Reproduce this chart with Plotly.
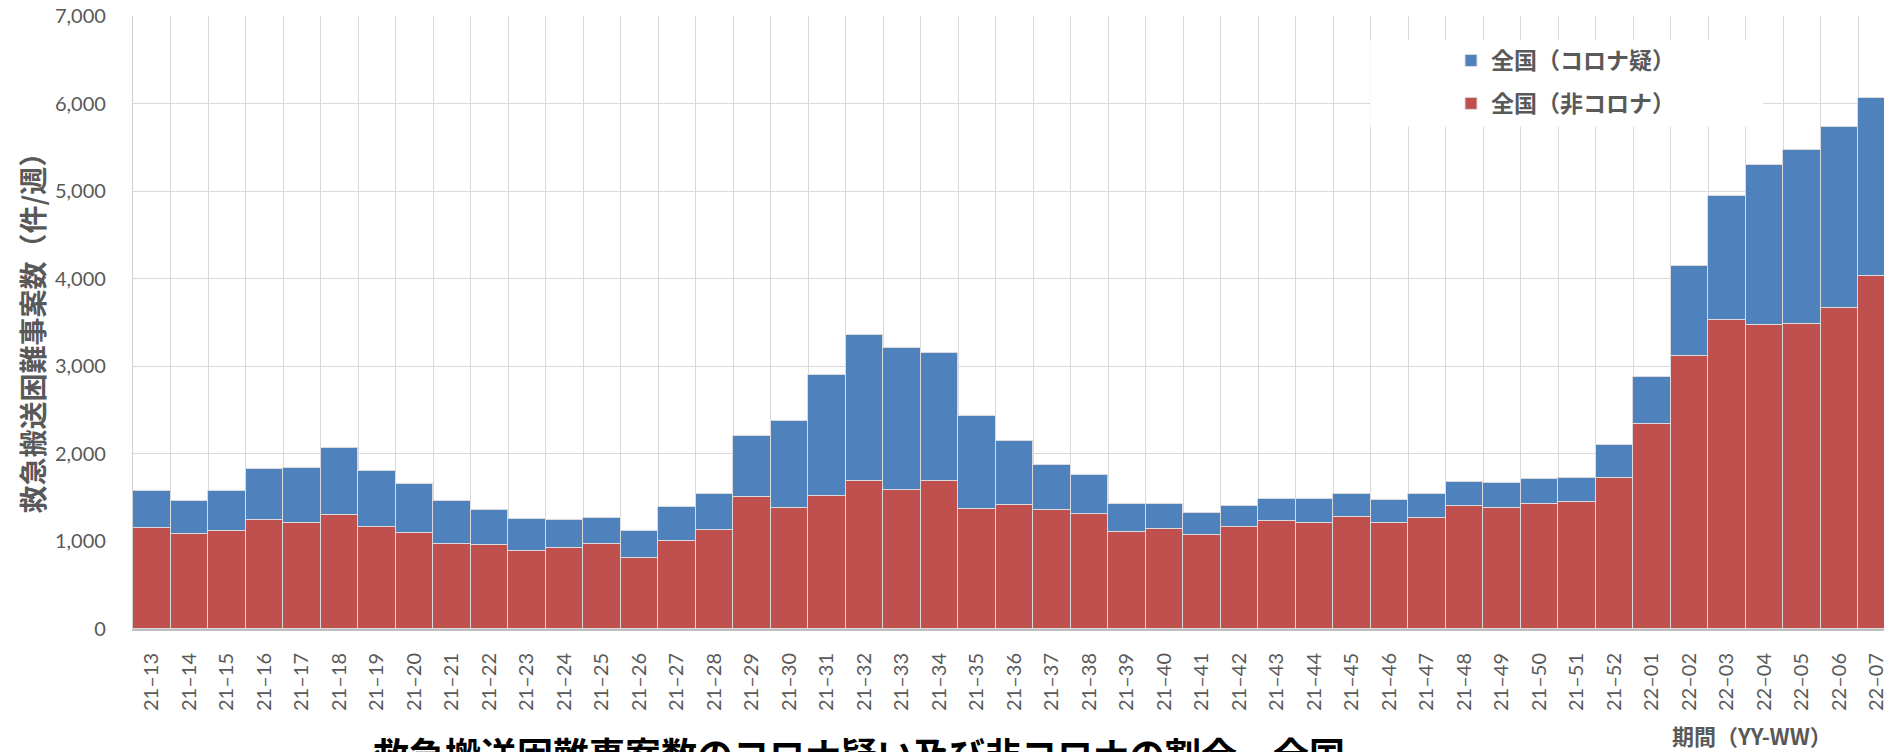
import plotly.graph_objects as go

categories = [
    "21–13", "21–14", "21–15", "21–16", "21–17", "21–18", "21–19", "21–20",
    "21–21", "21–22", "21–23", "21–24", "21–25", "21–26", "21–27", "21–28",
    "21–29", "21–30", "21–31", "21–32", "21–33", "21–34", "21–35", "21–36",
    "21–37", "21–38", "21–39", "21–40", "21–41", "21–42", "21–43", "21–44",
    "21–45", "21–46", "21–47", "21–48", "21–49", "21–50", "21–51", "21–52",
    "22–01", "22–02", "22–03", "22–04", "22–05", "22–06", "22–07",
]

non_corona = [
    1148, 1084, 1114, 1244, 1210, 1301, 1164, 1096,
    970, 959, 894, 925, 970, 810, 1005, 1126,
    1510, 1385, 1514, 1689, 1587, 1689, 1373, 1415,
    1354, 1308, 1103, 1141, 1073, 1164, 1233, 1206,
    1274, 1214, 1263, 1400, 1381, 1427, 1446, 1724,
    2340, 3120, 3534, 3470, 3485, 3671, 4033,
]

corona_suspected = [
    423, 381, 465, 586, 628, 761, 640, 563,
    487, 395, 362, 319, 301, 304, 388, 419,
    693, 993, 1381, 1671, 1621, 1462, 1062, 735,
    522, 446, 320, 290, 251, 240, 247, 282,
    271, 258, 282, 278, 282, 289, 281, 372,
    540, 1027, 1416, 1834, 1983, 2066, 2029,
]

y_ticks = [0, 1000, 2000, 3000, 4000, 5000, 6000, 7000]

NAME_NON = "全国（非コロナ）"
NAME_COR = "全国（コロナ疑）"
TITLE = "救急搬送困難事案数のコロナ疑い及び非コロナの割合　全国"
Y_TITLE = "救急搬送困難事案数（件/週）"
X_TITLE = "期間（YY-WW）"

LATIN = "Lato, 'Noto Sans CJK JP', sans-serif"
CJK = "'Noto Sans CJK JP', sans-serif"
GRAY = "#595959"

W, H = 1884, 752
ML, MR, MT, MB = 133, 0, 16, 123

fig = go.Figure()
fig.add_trace(go.Bar(
    x=categories, y=non_corona, name=NAME_NON,
    marker=dict(color="#C0504D", line=dict(color="#DADADA", width=1)),
    legendrank=2, legendgroup="b",
))
fig.add_trace(go.Bar(
    x=categories, y=corona_suspected, name=NAME_COR,
    marker=dict(color="#4F81BD", line=dict(color="#DADADA", width=1)),
    legendrank=1, legendgroup="a",
))

# white legend backdrop covering the gridlines
fig.add_shape(type="rect", xref="x", yref="y", x0=32.49, x1=42.97, y0=5734, y1=6727,
              fillcolor="white", line=dict(width=0), layer="between")

plot_w = W - ML - MR
plot_h = H - MT - MB


def px_x(px):
    return (px - ML) / plot_w


def px_y(py):
    return (H - MB - py) / plot_h


fig.add_annotation(text=Y_TITLE, xref="paper", yref="paper", x=px_x(31.5), y=px_y(326),
                   textangle=-90, showarrow=False, xanchor="center", yanchor="middle",
                   font=dict(family=CJK, size=28, color=GRAY, weight="bold"))
fig.add_annotation(text=X_TITLE, xref="paper", yref="paper", x=px_x(1670), y=px_y(735),
                   showarrow=False, xanchor="left", yanchor="middle",
                   font=dict(family=CJK, size=22, color=GRAY, weight="bold"))
fig.add_annotation(text=TITLE, xref="paper", yref="paper", x=px_x(371), y=px_y(725),
                   showarrow=False, xanchor="left", yanchor="top",
                   font=dict(family=CJK, size=36, color="black", weight="bold"))

fig.update_layout(
    width=W, height=H,
    margin=dict(l=ML, r=MR, t=MT, b=MB, pad=0, autoexpand=False),
    barmode="stack", bargap=0,
    paper_bgcolor="white", plot_bgcolor="white",
    showlegend=True,
    legend=dict(x=px_x(1451), y=px_y(39), xanchor="left", yanchor="top",
                bgcolor="rgba(0,0,0,0)", tracegroupgap=10,
                font=dict(family=CJK, size=23, color=GRAY, weight="bold")),
    xaxis=dict(
        type="category", range=[-0.5, 46.19], tickson="boundaries", automargin=False,
        showgrid=True, gridcolor="#D9D9D9", gridwidth=1.3,
        showline=True, linecolor="#BFBFBF", linewidth=2,
        tickangle=-90, ticks="", ticklabelstandoff=14,
        tickfont=dict(family=LATIN, size=20, color=GRAY),
    ),
    yaxis=dict(
        range=[0, 7000], tickvals=y_ticks, tickformat=",d", automargin=False,
        showgrid=True, gridcolor="#D9D9D9", gridwidth=1.3,
        showline=True, linecolor="#D0D0D0", linewidth=1.3,
        zeroline=False, ticks="", ticklabelstandoff=22,
        tickfont=dict(family=LATIN, size=20, color=GRAY),
    ),
)

fig.write_html(
    "out.html",
    config={"displayModeBar": False},
    post_script="document.body.style.margin='0';document.body.style.overflow='hidden';",
)
